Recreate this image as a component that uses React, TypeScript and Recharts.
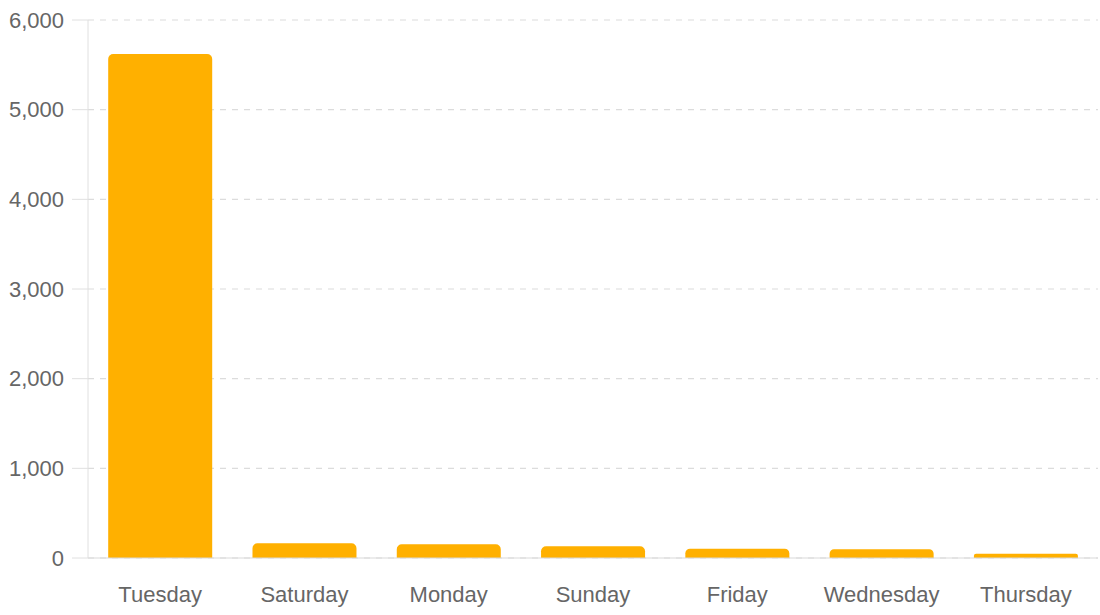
import React from "react";
import { BarChart, Bar, XAxis, YAxis, CartesianGrid } from "recharts";

const days = ["Tuesday", "Saturday", "Monday", "Sunday", "Friday", "Wednesday", "Thursday"];
const counts = [5620, 164, 153, 130, 104, 97, 48];
const yTicks = [0, 1000, 2000, 3000, 4000, 5000, 6000];

const data = days.map((d, i) => ({ day: d, value: counts[i] }));

const font = "Liberation Sans, Arial, sans-serif";

export default function App() {
  return (
    <div style={{ position: "absolute", left: 0, top: 0, background: "#fff" }}>
      <BarChart
        width={1100}
        height={615}
        data={data}
        margin={{ top: 20, right: 2, bottom: 0, left: 0 }}
        barCategoryGap="14%"
      >
        <CartesianGrid vertical={false} stroke="#dcdcdc" strokeDasharray="6 6" strokeWidth={1.2} />
        <XAxis
          dataKey="day"
          height={57}
          axisLine={{ stroke: "#d9d9d9" }}
          tickLine={false}
          tick={{ fill: "#666", fontSize: 22, fontFamily: font }}
          tickMargin={22}
        />
        <YAxis
          width={88}
          domain={[0, 6000]}
          ticks={yTicks}
          tickFormatter={(v: number) => v.toLocaleString("en-US")}
          axisLine={{ stroke: "#e0e0e0" }}
          tickLine={{ stroke: "#e0e0e0" }}
          tickSize={16}
          tickMargin={8}
          tick={{ fill: "#666", fontSize: 22, fontFamily: font }}
        />
        <Bar dataKey="value" fill="#ffb000" radius={[5, 5, 0, 0]} isAnimationActive={false} />
      </BarChart>
    </div>
  );
}
